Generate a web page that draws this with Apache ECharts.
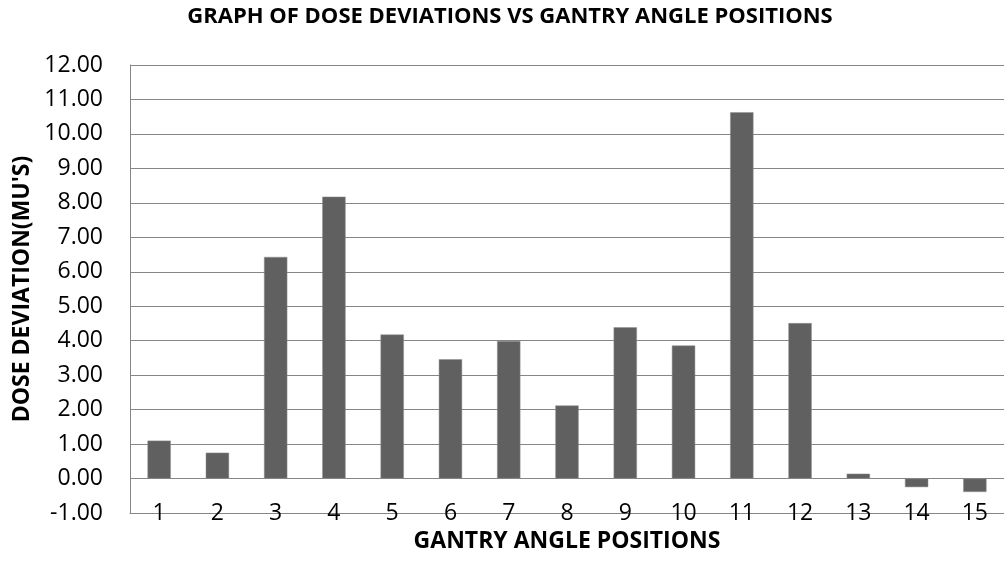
<!DOCTYPE html>
<html>
<head>
<meta charset="utf-8">
<script src="https://cdn.jsdelivr.net/npm/echarts@6/dist/echarts.min.js"></script>
<style>
  html, body { margin: 0; padding: 0; background: #fff; }
  #chart { width: 1004px; height: 562px; }
</style>
</head>
<body>
<div id="chart"></div>
<script>
// gantry angle positions
var positions = ['1', '2', '3', '4', '5', '6', '7', '8', '9', '10', '11', '12', '13', '14', '15'];
// dose deviation in MU's
var deviations = [1.10, 0.75, 6.43, 8.18, 4.18, 3.46, 3.99, 2.12, 4.39, 3.86, 10.63, 4.51, 0.14, -0.25, -0.39];

var chart = echarts.init(document.getElementById('chart'), null, { renderer: 'canvas' });
var font = '"Open Sans", sans-serif';

var option = {
  backgroundColor: '#ffffff',
  animation: false,
  title: {
    text: 'GRAPH OF DOSE DEVIATIONS VS GANTRY ANGLE POSITIONS',
    left: 505,
    textAlign: 'center',
    top: 1,
    textStyle: { fontFamily: font, fontWeight: 'bold', fontSize: 22, color: '#000' }
  },
  grid: { left: 130, right: 0, top: 65, bottom: 49, outerBoundsMode: 'none' },
  xAxis: {
    type: 'category',
    data: positions,
    name: 'GANTRY ANGLE POSITIONS',
    nameLocation: 'middle',
    nameGap: 17,
    nameTextStyle: { fontFamily: font, fontWeight: 'bold', fontSize: 23, color: '#000', verticalAlign: 'top' },
    axisLine: { onZero: false, lineStyle: { color: '#868686', width: 1 } },
    axisTick: { show: false },
    axisLabel: { fontFamily: font, fontSize: 23, color: '#000', margin: 0, verticalAlign: 'middle' }
  },
  yAxis: {
    type: 'value',
    min: -1,
    max: 12,
    interval: 1,
    name: "DOSE DEVIATION(MU'S)",
    nameLocation: 'middle',
    nameGap: 95,
    nameTextStyle: { fontFamily: font, fontWeight: 'bold', fontSize: 23, color: '#000' },
    axisLine: { show: true, lineStyle: { color: '#868686', width: 1 } },
    axisTick: { show: false },
    axisLabel: {
      fontFamily: font, fontSize: 23, color: '#000', margin: 27,
      formatter: function (v) { return v.toFixed(2); }
    },
    splitLine: { lineStyle: { color: '#868686', width: 1 } }
  },
  series: [{
    type: 'bar',
    data: deviations,
    barWidth: '40%',
    itemStyle: { color: '#606060', borderColor: '#909090', borderWidth: 0.5 }
  }]
};

chart.setOption(option);
</script>
</body>
</html>
